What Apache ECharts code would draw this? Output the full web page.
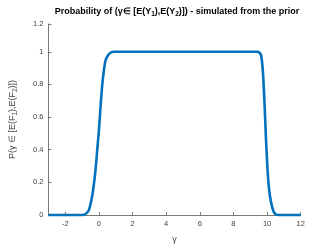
<!DOCTYPE html>
<html>
<head>
<meta charset="utf-8">
<script src="https://cdn.jsdelivr.net/npm/echarts@6/dist/echarts.min.js"></script>
<style>html,body{margin:0;padding:0;background:#fff}#c{width:332px;height:249px}</style>
</head>
<body>
<div id="c"></div>
<script>
const gammaValues = [-3, -1.2, -0.9, -0.75, -0.6, -0.45, -0.35, -0.2, -0.1, 0.0, 0.1, 0.2, 0.3, 0.4, 0.55, 0.7, 0.9, 2, 4, 6, 8, 9.4, 9.55, 9.65, 9.75, 9.85, 9.93, 10.0, 10.08, 10.18, 10.3, 10.42, 10.55, 10.7, 12];
const probValues  = [0, 0, 0.002, 0.01, 0.03, 0.09, 0.15, 0.28, 0.4, 0.52, 0.67, 0.8, 0.89, 0.95, 0.98, 0.995, 1.0, 1.0, 1.0, 1.0, 1.0, 1.0, 0.995, 0.975, 0.88, 0.68, 0.48, 0.33, 0.2, 0.11, 0.05, 0.015, 0.002, 0, 0];
const xTicks = [-2, 0, 2, 4, 6, 8, 10, 12];
const yTicks = [0, 0.2, 0.4, 0.6, 0.8, 1, 1.17];

const chart = echarts.init(document.getElementById('c'));
const axisCol = '#404040';
const font = 'Liberation Sans, Arial, sans-serif';
chart.setOption({
  animation: false,
  title: {
    text: 'Probability of (γ∈ [E(Y{s|1}),E(Y{s|2})]) - simulated from the prior',
    left: 172, textAlign: 'center', top: 1,
    textStyle: {
      fontFamily: font, fontSize: 9, fontWeight: 'bold', color: '#000',
      rich: { s: { fontFamily: font, fontSize: 6.5, fontWeight: 'bold', color: '#000', verticalAlign: 'bottom', padding: [5, 0, 0, 0] } }
    }
  },
  grid: { left: 43.5, right: 31.3, top: 24, bottom: 27, containLabel: false },
  xAxis: {
    type: 'value', min: -3, max: 12,
    name: 'γ', nameLocation: 'middle', nameGap: 20,
    nameTextStyle: { fontFamily: font, fontSize: 9, color: axisCol },
    axisLine: { show: true, onZero: false, lineStyle: { color: axisCol, width: 0.7 } },
    axisTick: { show: true, inside: true, length: 3, customValues: xTicks, lineStyle: { color: axisCol, width: 0.7 } },
    axisLabel: { customValues: xTicks, fontFamily: font, fontSize: 7.5, color: axisCol, margin: 5 },
    splitLine: { show: false }
  },
  yAxis: {
    type: 'value', min: 0, max: 1.17,
    name: 'P(γ ∈ [E(F{s|1}),E(F{s|2})])', nameLocation: 'middle', nameGap: 30,
    nameTextStyle: {
      fontFamily: font, fontSize: 9, color: axisCol,
      rich: { s: { fontFamily: font, fontSize: 6.5, color: axisCol, verticalAlign: 'bottom', padding: [5, 0, 0, 0] } }
    },
    axisLine: { show: true, onZero: false, lineStyle: { color: axisCol, width: 0.7 } },
    axisTick: { show: true, inside: true, length: 3, customValues: yTicks, lineStyle: { color: axisCol, width: 0.7 } },
    axisLabel: {
      customValues: yTicks,
      fontFamily: font, fontSize: 7.5, color: axisCol, margin: 5,
      formatter: v => String(Math.round(v * 10) / 10)
    },
    splitLine: { show: false }
  },
  series: [{
    type: 'line',
    data: gammaValues.map((g, i) => [g, probValues[i]]),
    showSymbol: false, smooth: 0.3,
    lineStyle: { color: '#0072BD', width: 2.6 },
    clip: false
  }]
});
</script>
</body>
</html>
